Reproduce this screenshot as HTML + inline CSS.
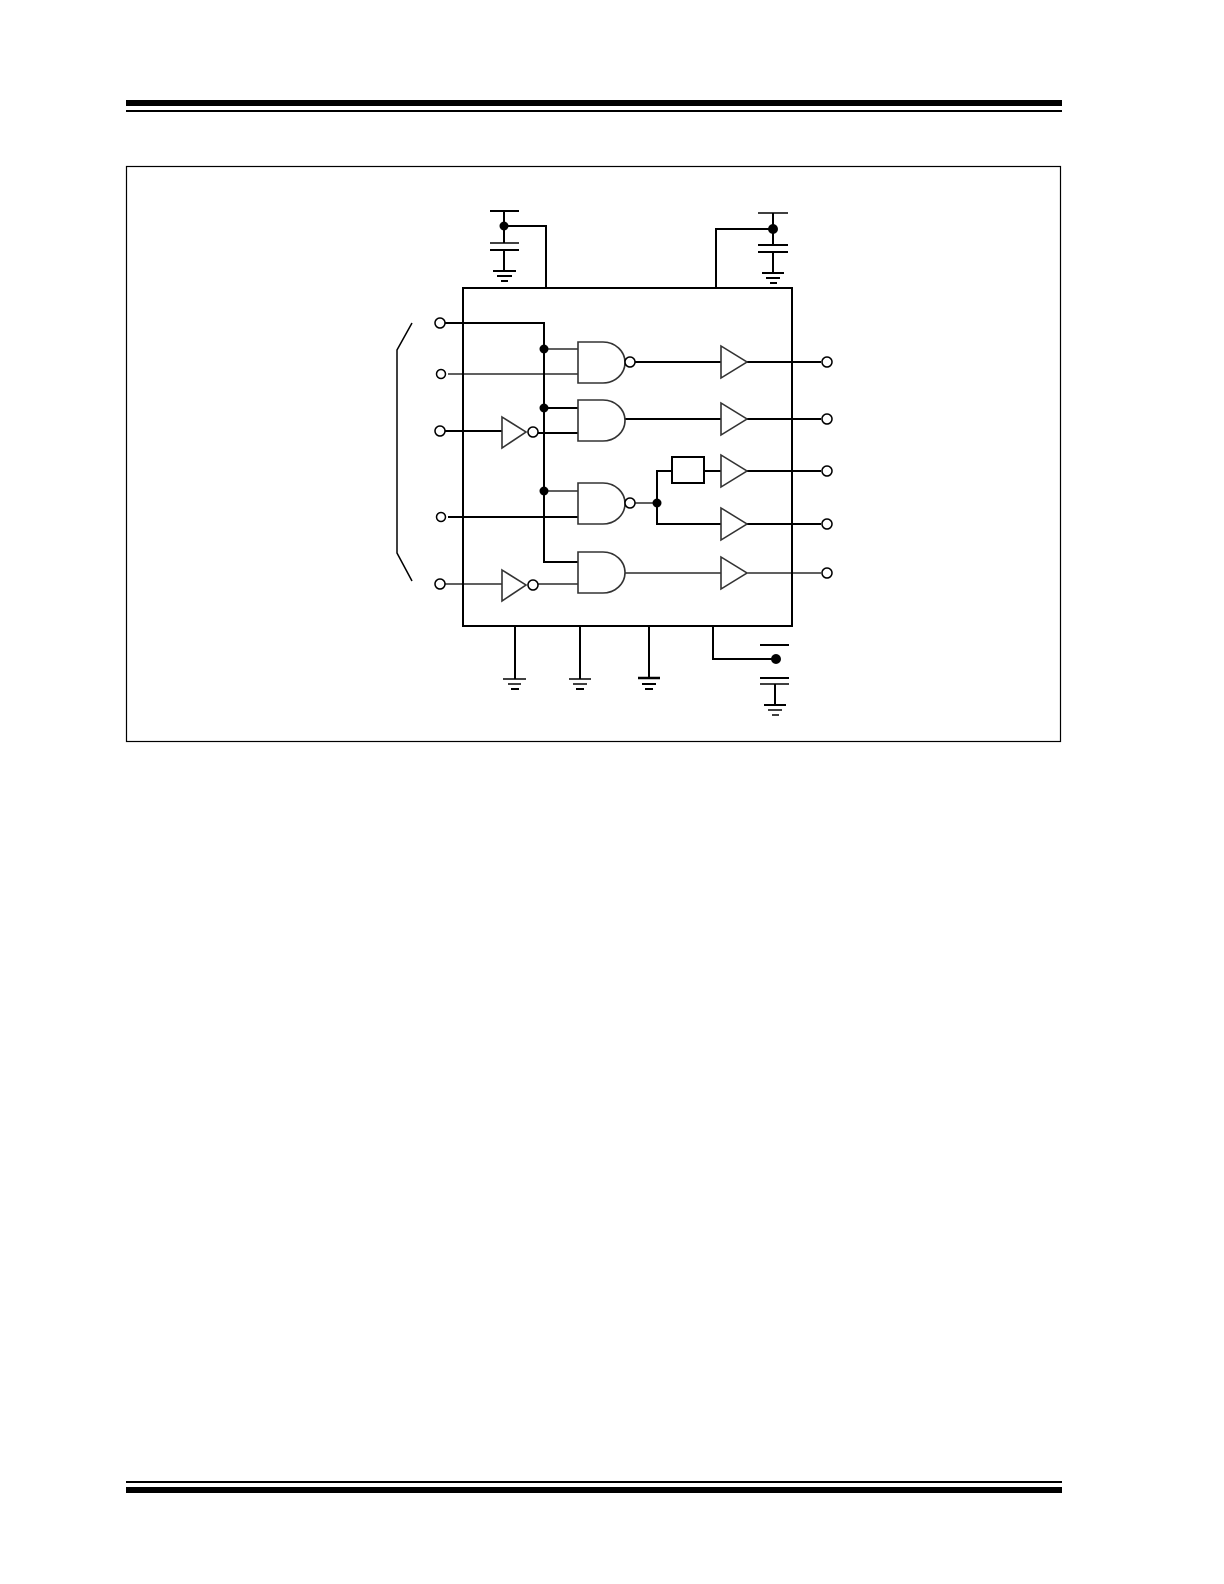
<!DOCTYPE html>
<html><head><style>html,body{margin:0;padding:0;background:#fff}svg{display:block}</style></head>
<body>
<svg width="1224" height="1584" viewBox="0 0 1224 1584" xmlns="http://www.w3.org/2000/svg">
<rect x="126" y="100" width="936" height="6" fill="#000"/>
<rect x="126" y="110" width="936" height="2" fill="#000"/>
<rect x="126" y="1481" width="936" height="2" fill="#000"/>
<rect x="126" y="1487" width="936" height="6" fill="#000"/>
<rect x="126.5" y="166.5" width="934" height="575" fill="none" stroke="#000" stroke-width="1.2"/>
<g stroke="#000" stroke-width="2" fill="none">
<!-- IC -->
<rect x="463" y="288" width="329" height="338"/>
<!-- top-left cap -->
<line x1="490" y1="211" x2="519" y2="211"/>
<line x1="504" y1="211" x2="504" y2="243"/>
<polyline points="504,226 546,226 546,288"/>
<line x1="490" y1="243" x2="519" y2="243" stroke-width="1.5"/>
<line x1="490" y1="250" x2="519" y2="250"/>
<line x1="504" y1="250" x2="504" y2="271"/>
<line x1="493" y1="271" x2="516" y2="271"/>
<line x1="497" y1="276" x2="512" y2="276"/>
<line x1="501" y1="281" x2="508" y2="281"/>
<!-- top-right cap -->
<line x1="758" y1="213" x2="788" y2="213" stroke-width="1.5"/>
<line x1="773" y1="213" x2="773" y2="245"/>
<polyline points="773,229 716,229 716,288"/>
<line x1="758" y1="245" x2="788" y2="245"/>
<line x1="758" y1="252" x2="788" y2="252"/>
<line x1="773" y1="252" x2="773" y2="273"/>
<line x1="762" y1="273" x2="784" y2="273"/>
<line x1="766" y1="278" x2="780" y2="278"/>
<line x1="770" y1="283" x2="777" y2="283"/>
<!-- bracket -->
<polyline points="412,323 397,350 397,553 412,581" stroke-width="1.5"/>
<!-- inputs -->
<polyline points="445,323 544,323 544,562 578,562"/>
<line x1="448" y1="374" x2="578" y2="374" stroke-width="1.2"/>
<line x1="445" y1="431" x2="502" y2="431"/>
<line x1="448" y1="517" x2="578" y2="517"/>
<line x1="445" y1="584" x2="502" y2="584" stroke-width="1.2"/>
<!-- gate input stubs -->
<line x1="544" y1="349" x2="578" y2="349" stroke-width="1.2"/>
<line x1="544" y1="408" x2="578" y2="408"/>
<line x1="538" y1="433" x2="578" y2="433"/>
<line x1="544" y1="491" x2="578" y2="491" stroke-width="1.2"/>
<line x1="538" y1="584" x2="578" y2="584" stroke-width="1.2"/>
<!-- outputs -->
<line x1="635" y1="362" x2="721" y2="362"/>
<line x1="625" y1="419" x2="721" y2="419"/>
<line x1="635" y1="503" x2="657" y2="503" stroke-width="1.2"/>
<polyline points="721,471 704,471"/>
<polyline points="672,471 657,471 657,524 721,524"/>
<line x1="625" y1="573" x2="721" y2="573" stroke-width="1.2"/>
<line x1="747" y1="362" x2="821" y2="362"/>
<line x1="747" y1="419" x2="821" y2="419"/>
<line x1="747" y1="471" x2="821" y2="471"/>
<line x1="747" y1="524" x2="821" y2="524"/>
<line x1="747" y1="573" x2="821" y2="573" stroke-width="1.2"/>
<rect x="672" y="457" width="32" height="26"/>
<!-- bottom pins -->
<line x1="515" y1="626" x2="515" y2="679"/>
<line x1="580" y1="626" x2="580" y2="679"/>
<line x1="649" y1="626" x2="649" y2="679"/>
<polyline points="713,626 713,659 776,659"/>
<line x1="760" y1="645" x2="789" y2="645"/>
<line x1="760" y1="678" x2="789" y2="678"/>
<line x1="760" y1="684" x2="789" y2="684" stroke-width="1.5"/>
<line x1="775" y1="684" x2="775" y2="705"/>
<line x1="764" y1="705" x2="786" y2="705"/>
<line x1="768" y1="710" x2="782" y2="710" stroke-width="1.5"/>
<line x1="772" y1="715" x2="779" y2="715" stroke-width="1.5"/>
</g>
<g stroke="#000" fill="none" stroke-width="1.5">
<line x1="503" y1="679" x2="526" y2="679"/>
<line x1="508" y1="684" x2="521" y2="684"/>
<line x1="511" y1="689" x2="519" y2="689" stroke-width="2"/>
<line x1="569" y1="679" x2="591" y2="679"/>
<line x1="573" y1="684" x2="587" y2="684"/>
<line x1="576" y1="689" x2="584" y2="689" stroke-width="2"/>
<line x1="638" y1="678" x2="660" y2="678" stroke-width="2.5"/>
<line x1="642" y1="684" x2="656" y2="684" stroke-width="2"/>
<line x1="645" y1="689" x2="653" y2="689" stroke-width="2"/>
</g>
<!-- gates -->
<g stroke="#333" stroke-width="1.6" fill="#fff">
<path d="M578,342 H603 A22,20.5 0 0 1 603,383 H578 Z"/>
<path d="M578,400 H603 A22,20.5 0 0 1 603,441 H578 Z"/>
<path d="M578,483 H603 A22,20.5 0 0 1 603,524 H578 Z"/>
<path d="M578,552 H603 A22,20.5 0 0 1 603,593 H578 Z"/>
<path d="M502,417 L526,432 L502,448 Z"/>
<path d="M502,570 L526,585 L502,601 Z"/>
<path d="M721,346 L747,362 L721,378 Z"/>
<path d="M721,403 L747,419 L721,435 Z"/>
<path d="M721,455 L747,471 L721,487 Z"/>
<path d="M721,508 L747,524 L721,540 Z"/>
<path d="M721,557 L747,573 L721,589 Z"/>
</g>
<g stroke="#000" stroke-width="1.5" fill="#fff">
<circle cx="630" cy="362" r="5"/>
<circle cx="630" cy="503" r="5"/>
<circle cx="533" cy="432" r="5"/>
<circle cx="533" cy="585" r="5"/>
<circle cx="440" cy="323" r="5"/>
<circle cx="441" cy="374" r="4.5"/>
<circle cx="440" cy="431" r="5"/>
<circle cx="441" cy="517" r="4.5"/>
<circle cx="440" cy="584" r="5"/>
<circle cx="827" cy="362" r="5"/>
<circle cx="827" cy="419" r="5"/>
<circle cx="827" cy="471" r="5"/>
<circle cx="827" cy="524" r="5"/>
<circle cx="827" cy="573" r="5"/>
</g>
<g fill="#000">
<circle cx="504" cy="226" r="4.5"/>
<circle cx="773" cy="229" r="5"/>
<circle cx="544" cy="349" r="4.5"/>
<circle cx="544" cy="408" r="4.5"/>
<circle cx="544" cy="491" r="4.5"/>
<circle cx="657" cy="503" r="4.5"/>
<circle cx="776" cy="659" r="5"/>
</g>
</svg>
</body></html>
